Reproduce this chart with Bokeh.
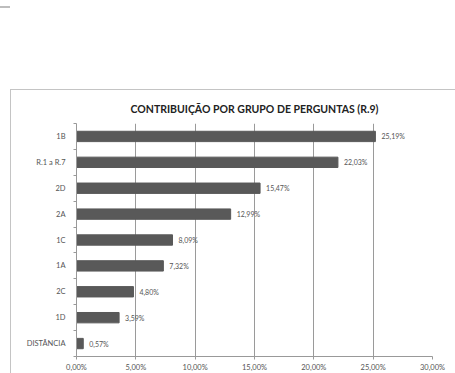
from bokeh.plotting import figure
from bokeh.embed import file_html
from bokeh.resources import INLINE
from bokeh.models import FixedTicker, ColumnDataSource, Div, Spacer
from bokeh.layouts import column, row
from bokeh.core.properties import value

categories = ["1B", "R.1 a R.7", "2D", "2A", "1C", "1A", "2C", "1D", "DISTÂNCIA"]
values = [25.19, 22.03, 15.47, 12.99, 8.09, 7.32, 4.80, 3.59, 0.57]
x_ticks = [0, 5, 10, 15, 20, 25, 30]
x_tick_labels = ["0,00%", "5,00%", "10,00%", "15,00%", "20,00%", "25,00%", "30,00%"]
title_text = "CONTRIBUIÇÃO POR GRUPO DE PERGUNTAS (R.9)"

n = len(categories)
ypos = [n - 1 - i for i in range(n)]
labels = [("%.2f" % v).replace(".", ",") + "%" for v in values]
src = ColumnDataSource(dict(y=ypos, v=values, lab=labels))

FONT = "Lato"
p = figure(width=445, height=284, x_range=(0, 30), y_range=(-0.5, n - 0.5),
           output_backend="svg", toolbar_location=None, margin=0,
           min_border_left=65, min_border_right=24, min_border_top=33, min_border_bottom=18)
p.styles = {"border-top": "1px solid #c4c4c4", "border-left": "1px solid #c4c4c4",
            "box-sizing": "border-box"}
p.title.text = title_text
p.title.align = "center"
p.title.text_font = FONT
p.title.text_font_size = "10.5px"
p.title.text_font_style = "bold"
p.title.text_color = "#222222"
p.title.standoff = 18
p.outline_line_color = None

p.hbar(y="y", right="v", left=0, height=0.4, source=src, color="#595959")
p.text(x="v", y="y", text="lab", source=src, x_offset=6, text_baseline="middle",
       text_font=value(FONT), text_font_size="7px", text_color="#555555")

# x axis
p.xaxis.ticker = FixedTicker(ticks=x_ticks)
p.xaxis.major_label_overrides = {t: l for t, l in zip(x_ticks, x_tick_labels)}
p.xaxis.major_label_text_font = FONT
p.xaxis.major_label_text_font_size = "7.5px"
p.xaxis.major_label_text_color = "#555555"
p.xaxis.axis_line_color = "#999999"
p.xaxis.major_tick_line_color = "#999999"
p.xaxis.major_tick_in = 0
p.xaxis.major_tick_out = 3
p.xaxis.minor_tick_line_color = None
p.xaxis.major_label_standoff = 3

# y axis
p.yaxis.ticker = FixedTicker(ticks=ypos, minor_ticks=[i - 0.5 for i in range(n + 1)])
p.yaxis.major_label_overrides = {y: c for y, c in zip(ypos, categories)}
p.yaxis.major_label_text_font = FONT
p.yaxis.major_label_text_font_size = "7.5px"
p.yaxis.major_label_text_color = "#555555"
p.yaxis.axis_line_color = "#999999"
p.yaxis.major_tick_line_color = None
p.yaxis.major_tick_out = 3
p.yaxis.minor_tick_line_color = "#999999"
p.yaxis.minor_tick_in = 0
p.yaxis.minor_tick_out = 3
p.yaxis.major_label_standoff = 8

p.xgrid.ticker = FixedTicker(ticks=x_ticks)
p.xgrid.grid_line_color = "#9a9a9a"
p.ygrid.grid_line_color = None

top = Div(text='<div style="position:absolute;left:0;top:6px;width:10px;height:2px;background:#bdbdbd"></div>',
          width=455, height=89, margin=0)
layout = column(top, row(Spacer(width=10, height=284, margin=0), p, margin=0), margin=0)

open("out.html", "w").write(file_html(layout, INLINE))
